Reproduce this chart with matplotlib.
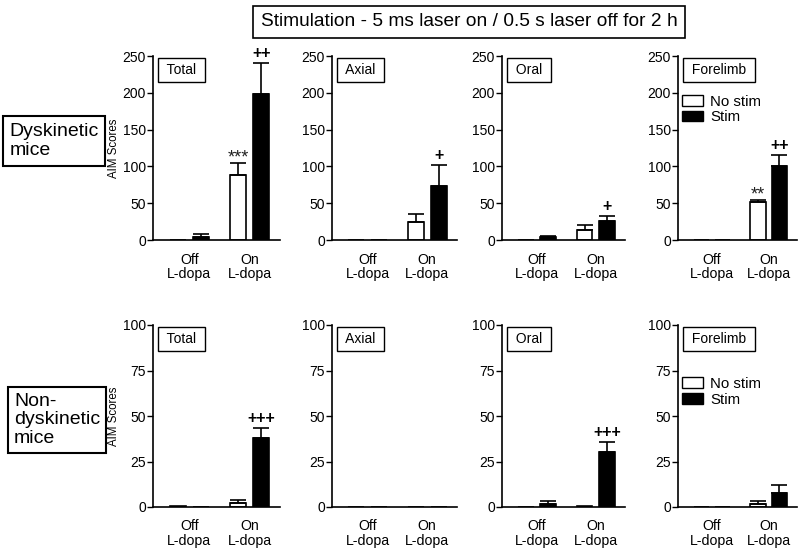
import matplotlib
matplotlib.use("Agg")
import matplotlib.pyplot as plt
from matplotlib.patches import Patch

plt.rcParams['font.family'] = ['Liberation Sans', 'DejaVu Sans']

# ---------------- data ----------------
panels = ["Total", "Axial", "Oral", "Forelimb"]
groups = ["Off\nL-dopa", "On\nL-dopa"]
series = ["No stim", "Stim"]

# Dyskinetic mice (top row)
dysk_nostim_mean = [[0, 88], [0, 24], [0, 13], [0, 51]]
dysk_nostim_sem = [[0, 17], [0, 11], [0, 8], [0, 4]]
dysk_stim_mean = [[4, 199], [0, 74], [4, 26], [0, 100]]
dysk_stim_sem = [[4, 41], [0, 28], [2, 6], [0, 16]]
dysk_nostim_sig = [["", "***"], ["", ""], ["", ""], ["", "**"]]
dysk_stim_sig = [["", "++"], ["", "+"], ["", "+"], ["", "++"]]

# Non-dyskinetic mice (bottom row)
non_nostim_mean = [[0.5, 2.4], [0, 0], [0, 0.3], [0, 1.8]]
non_nostim_sem = [[0, 1.4], [0, 0], [0, 0], [0, 1.5]]
non_stim_mean = [[0, 38], [0, 0], [1.8, 30], [0, 7.9]]
non_stim_sem = [[0, 5.6], [0, 0], [1.3, 5.5], [0, 4.2]]
non_nostim_sig = [["", ""], ["", ""], ["", ""], ["", ""]]
non_stim_sig = [["", "+++"], ["", ""], ["", "+++"], ["", ""]]

top_ylim, top_ticks = 250, [0, 50, 100, 150, 200, 250]
bot_ylim, bot_ticks = 100, [0, 25, 50, 75, 100]

title = "Stimulation - 5 ms laser on / 0.5 s laser off for 2 h"
row_labels = ["Dyskinetic\nmice", "Non-\ndyskinetic\nmice"]
ylabel = "AIM Scores"

# ---------------- layout ----------------
W, H = 800, 551
fig = plt.figure(figsize=(W / 100, H / 100), dpi=100)

col_px = [(153, 127), (332, 125), (502, 123), (678, 119)]
row_px = [(56, 240), (325, 507)]  # top, bottom pixel of axes

bw = 0.27
off = 0.19


def draw_row(r, nm, ns, sm, ss, nsig, ssig, ymax, yticks):
    top, bot = row_px[r]
    for c, (x0, w) in enumerate(col_px):
        ax = fig.add_axes([x0 / W, 1 - bot / H, w / W, (bot - top) / H])
        xs = [1, 2]
        xw = [x - off for x in xs]
        xb = [x + off for x in xs]
        ax.bar(xw, nm[c], width=bw, color="white", edgecolor="black",
               linewidth=1.2, zorder=2)
        ax.bar(xb, sm[c], width=bw, color="black", edgecolor="black",
               linewidth=1.2, zorder=2)
        for xpos, means, sems, sigs, fs, bold in (
                (xw, nm[c], ns[c], nsig[c], 13, False),
                (xb, sm[c], ss[c], ssig[c], 11.5, True)):
            for i in range(2):
                topv = means[i] + sems[i]
                if sems[i] > 0:
                    ax.errorbar(xpos[i], means[i], yerr=[[0], [sems[i]]],
                                fmt="none", ecolor="black", elinewidth=1.2,
                                capsize=5.5, capthick=1.2, zorder=3)
                if sigs[i]:
                    dy = 0 if not bold else 5
                    ax.annotate(sigs[i], xy=(xpos[i], topv),
                                xytext=(0, dy), textcoords="offset pixels",
                                ha="center", va="baseline", fontsize=fs,
                                fontweight="bold" if bold else "normal",
                                color="#222222" if not bold else "black")
        ax.set_xlim(0.4, 2.5)
        ax.set_ylim(0, ymax)
        ax.set_yticks(yticks)
        ax.set_xticks(xs)
        ax.set_xticklabels(groups, fontsize=10.2, linespacing=1.05)
        ax.tick_params(axis="x", length=0, pad=9)
        ax.tick_params(axis="y", length=4, width=1, labelsize=10, pad=1,
                       colors="black")
        for sp in ("top", "right"):
            ax.spines[sp].set_visible(False)
        for sp in ("left", "bottom"):
            ax.spines[sp].set_linewidth(1.2)
        ax.annotate(" " + panels[c] + " ", xy=(0, 1), xycoords="axes fraction",
                    xytext=(10, -7), textcoords="offset pixels",
                    ha="left", va="top", fontsize=10,
                    bbox=dict(boxstyle="square,pad=0.35", facecolor="white",
                              edgecolor="black", linewidth=1))
        if c == 0:
            ax.set_ylabel(ylabel, fontsize=8.3, labelpad=2)
        if c == 3:
            handles = [Patch(facecolor="white", edgecolor="black", linewidth=1),
                       Patch(facecolor="black", edgecolor="black", linewidth=1)]
            ytop = 0.79 if r == 0 else 0.715
            ax.legend(handles, series, loc="upper left",
                      bbox_to_anchor=(0.03, ytop), frameon=False,
                      fontsize=10.8, handlelength=1.4, handleheight=0.7,
                      handletextpad=0.5, labelspacing=0.12, borderpad=0,
                      borderaxespad=0)


draw_row(0, dysk_nostim_mean, dysk_nostim_sem, dysk_stim_mean, dysk_stim_sem,
         dysk_nostim_sig, dysk_stim_sig, top_ylim, top_ticks)
draw_row(1, non_nostim_mean, non_nostim_sem, non_stim_mean, non_stim_sem,
         non_nostim_sig, non_stim_sig, bot_ylim, bot_ticks)

fig.text(469 / W, 1 - 22 / H, title, ha="center", va="center", fontsize=13.8,
         bbox=dict(boxstyle="square,pad=0.4", facecolor="white",
                   edgecolor="black", linewidth=1.2))
fig.text(54 / W, 1 - 141 / H, row_labels[0], ha="center", va="center",
         multialignment="left", fontsize=14, linespacing=1.15,
         bbox=dict(boxstyle="square,pad=0.35", facecolor="white",
                   edgecolor="black", linewidth=1.5))
fig.text(57 / W, 1 - 420 / H, row_labels[1], ha="center", va="center",
         multialignment="left", fontsize=14, linespacing=1.15,
         bbox=dict(boxstyle="square,pad=0.3", facecolor="white",
                   edgecolor="black", linewidth=1.5))

fig.savefig("out.png", dpi=100)
